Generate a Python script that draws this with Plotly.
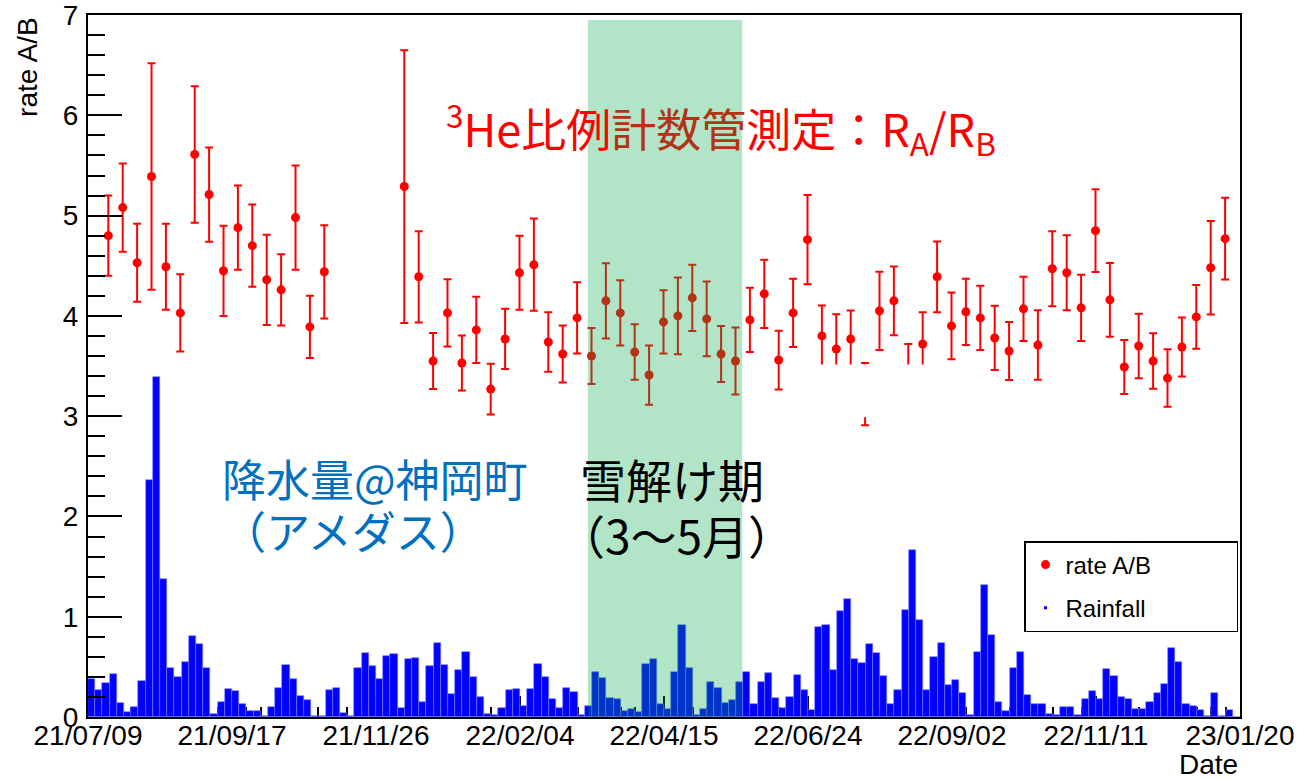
import plotly.graph_objects as go
import pandas as pd

# ---------------- data ----------------
# weekly rate A/B measurements (two measurement periods)
rate_seg1_start = "2021-07-18 21:00"
rate_seg1 = [4.80, 5.08, 4.53, 5.39, 4.49, 4.03, 5.61, 5.21, 4.45, 4.88,
             4.70, 4.36, 4.26, 4.98, 3.89, 4.44]
err_seg1 = [0.40, 0.44, 0.39, 1.13, 0.43, 0.385, 0.68, 0.47, 0.45, 0.42,
            0.41, 0.45, 0.355, 0.52, 0.31, 0.465]

rate_seg2_start = "2021-12-09 18:00"
rate_seg2 = [5.29, 4.39, 3.55, 4.03, 3.53, 3.86, 3.27, 3.77, 4.43, 4.51,
             3.74, 3.62, 3.98, 3.60, 4.15, 4.03, 3.64, 3.41, 3.94, 4.00,
             4.18, 3.97, 3.62, 3.55, 3.96, 4.22, 3.56, 4.03, 4.76, 3.80,
             3.67, 3.77, 3.22, 4.05, 4.15, 3.40, 3.72, 4.39, 3.90, 4.04,
             3.98, 3.78, 3.65, 4.07, 3.71, 4.47, 4.43, 4.08, 4.85, 4.16,
             3.49, 3.70, 3.55, 3.38, 3.69, 3.99, 4.48, 4.77]
err_seg2 = [1.36, 0.455, 0.28, 0.335, 0.275, 0.33, 0.253, 0.30, 0.37, 0.46,
            0.297, 0.285, 0.355, 0.28, 0.375, 0.325, 0.277, 0.295, 0.315, 0.383,
            0.33, 0.372, 0.28, 0.333, 0.32, 0.34, 0.293, 0.34, 0.445, 0.303,
            0.347, 0.283, 0.31, 0.39, 0.343, 0.32, 0.317, 0.353, 0.333, 0.33,
            0.32, 0.32, 0.29, 0.32, 0.347, 0.375, 0.375, 0.33, 0.413, 0.368,
            0.27, 0.322, 0.277, 0.287, 0.295, 0.318, 0.467, 0.407]

# rainfall histogram: 160 bins of 3.5 days starting 2021-07-09
rain_start = "2021-07-09"
rain_bin_hours = 84
rainfall = [0.38, 0.27, 0.34, 0.43, 0.14, 0.05, 0.10, 0.36, 2.36, 3.39,
            1.38, 0.49, 0.40, 0.55, 0.81, 0.73, 0.49, 0.03, 0.15, 0.28,
            0.26, 0.13, 0.06, 0.06, 0.01, 0.10, 0.29, 0.52, 0.38, 0.21,
            0.17, 0.01, 0.01, 0.27, 0.29, 0.04, 0.01, 0.49, 0.64, 0.51,
            0.38, 0.61, 0.63, 0.09, 0.58, 0.59, 0.15, 0.51, 0.74, 0.52,
            0.23, 0.47, 0.65, 0.40, 0.20, 0.03, 0.02, 0.09, 0.27, 0.28,
            0.11, 0.28, 0.53, 0.40, 0.18, 0.09, 0.29, 0.25, 0.02, 0.11,
            0.45, 0.39, 0.19, 0.18, 0.06, 0.08, 0.05, 0.53, 0.58, 0.13,
            0.08, 0.45, 0.92, 0.49, 0.02, 0.08, 0.35, 0.29, 0.14, 0.17,
            0.35, 0.45, 0.13, 0.35, 0.44, 0.19, 0.09, 0.20, 0.42, 0.27,
            0.07, 0.90, 0.92, 0.47, 1.06, 1.18, 0.58, 0.54, 0.73, 0.64,
            0.41, 0.13, 0.27, 1.07, 1.67, 0.97, 0.27, 0.60, 0.74, 0.32,
            0.37, 0.24, 0.02, 0.65, 1.32, 0.82, 0.15, 0.06, 0.49, 0.65,
            0.22, 0.13, 0.13, 0.03, 0.02, 0.10, 0.10, 0.02, 0.18, 0.26,
            0.18, 0.48, 0.41, 0.20, 0.18, 0.08, 0.08, 0.15, 0.24, 0.33,
            0.69, 0.55, 0.13, 0.11, 0.07, 0.01, 0.24, 0.01, 0.07, 0.00]

x_range = ["2021-07-09", "2023-01-20"]
snowmelt = ["2022-03-09", "2022-05-23"]
hidden_box_x = ["2022-06-27 10:00", "2022-08-22 07:00"]
hidden_box_y = [2.99, 3.515]

# ---------------- derived positions ----------------
x1 = pd.date_range(rate_seg1_start, periods=len(rate_seg1), freq="7D")
x2 = pd.date_range(rate_seg2_start, periods=len(rate_seg2), freq="7D")
rate_x = list(x1) + list(x2)
rate_y = rate_seg1 + rate_seg2
rate_e = err_seg1 + err_seg2

rain_x = pd.date_range(pd.Timestamp(rain_start) + pd.Timedelta(hours=rain_bin_hours / 2),
                       periods=len(rainfall), freq=f"{rain_bin_hours}h")

DAY = 86400000
AXFONT = dict(family="Liberation Sans, Arial, Helvetica, sans-serif", size=28, color="black")
JP = "Noto Sans CJK JP"

fig = go.Figure()

fig.add_trace(go.Bar(
    x=rain_x, y=rainfall, width=rain_bin_hours * 3600 * 1000,
    marker=dict(color="#0000ff", line=dict(color="#7a7aff", width=0.6)),
    showlegend=False, name="Rainfall"))

fig.add_trace(go.Scatter(
    x=rate_x, y=rate_y, mode="markers", name="rate A/B" + "\u00a0" * 12,
    marker=dict(color="#ff0000", size=9),
    error_y=dict(type="data", array=rate_e, visible=True, color="#ff0000",
                 thickness=2, width=4),
    legendgroup="a"))

fig.add_trace(go.Scatter(
    x=[None], y=[None], mode="markers", name="Rainfall",
    marker=dict(color="#0000ff", size=3, symbol="square"),
    legendgroup="b"))

# snow-melt season band and blank patch
fig.add_shape(type="rect", xref="x", yref="y", x0=snowmelt[0], x1=snowmelt[1],
              y0=0, y1=6.95, fillcolor="rgba(0,170,70,0.30)", line=dict(width=0),
              layer="above")
fig.add_shape(type="rect", xref="x", yref="y", x0=hidden_box_x[0], x1=hidden_box_x[1],
              y0=hidden_box_y[0], y1=hidden_box_y[1], fillcolor="white",
              line=dict(width=0), layer="above")

annots = [
    dict(text="<sup>3</sup>He比例<span style='color:#B23315'>計数管</span>測定：R<sub>A</sub>/R<sub>B</sub>",
         x=0.309, y=0.839, xanchor="left", yanchor="middle",
         font=dict(family=JP, size=45, color="#ff0000")),
    dict(text="降水量@神岡町", x=0.1146, y=0.3405, xanchor="left", yanchor="middle",
         font=dict(family=JP, size=44, color="#0070C0")),
    dict(text="（アメダス）", x=0.1146, y=0.2664, xanchor="left", yanchor="middle",
         font=dict(family=JP, size=44, color="#0070C0")),
    dict(text="雪解け期", x=0.4253, y=0.3405, xanchor="left", yanchor="middle",
         font=dict(family=JP, size=46, color="black")),
    dict(text="（3～5月）", x=0.407, y=0.2607, xanchor="left", yanchor="middle",
         font=dict(family=JP, size=46, color="black")),
    dict(text="rate A/B", x=-0.053, y=1.0, xanchor="center", yanchor="top",
         textangle=-90, font=AXFONT),
    dict(text="Date", x=1.0, y=-0.067, xanchor="right", yanchor="middle",
         font=AXFONT),
]
for a in annots:
    a.update(xref="paper", yref="paper", showarrow=False)
fig.update_layout(annotations=annots)

fig.update_layout(
    width=1297, height=779, autosize=False,
    margin=dict(l=88, r=57, t=15, b=62, pad=0),
    plot_bgcolor="white", paper_bgcolor="white",
    bargap=0,
    legend=dict(x=0.8125, y=0.2507, xanchor="left", yanchor="top",
                bgcolor="white", bordercolor="black", borderwidth=1.5,
                font=dict(family="Liberation Sans, Arial, sans-serif", size=24, color="black"),
                traceorder="grouped", tracegroupgap=9),
    xaxis=dict(type="date", range=x_range, tick0=x_range[0], dtick=70 * DAY,
               tickformat="%y/%m/%d", ticks="inside", ticklen=21, tickwidth=1.5,
               tickcolor="black", showline=True, linecolor="black", linewidth=2,
               mirror=True, showgrid=False, zeroline=False, tickfont=AXFONT,
               automargin=False, ticklabelstandoff=-8, ticklabeloverflow="allow",
               layer="below traces",
               minor=dict(tick0=x_range[0], dtick=7 * DAY, ticks="inside", ticklen=10,
                          tickwidth=1.5, tickcolor="black", showgrid=False)),
    yaxis=dict(range=[0, 7.0005], tick0=0, dtick=1, ticks="inside", ticklen=34, tickwidth=1.5,
               tickcolor="black", showline=True, linecolor="black", linewidth=2,
               mirror=True, showgrid=False, zeroline=False, tickfont=AXFONT,
               automargin=False, ticklabelstandoff=2, ticklabeloverflow="allow",
               layer="above traces",
               minor=dict(dtick=0.2, ticks="inside", ticklen=17, tickwidth=1.5,
                          tickcolor="black", showgrid=False)),
)

fig.write_html("out.html")
